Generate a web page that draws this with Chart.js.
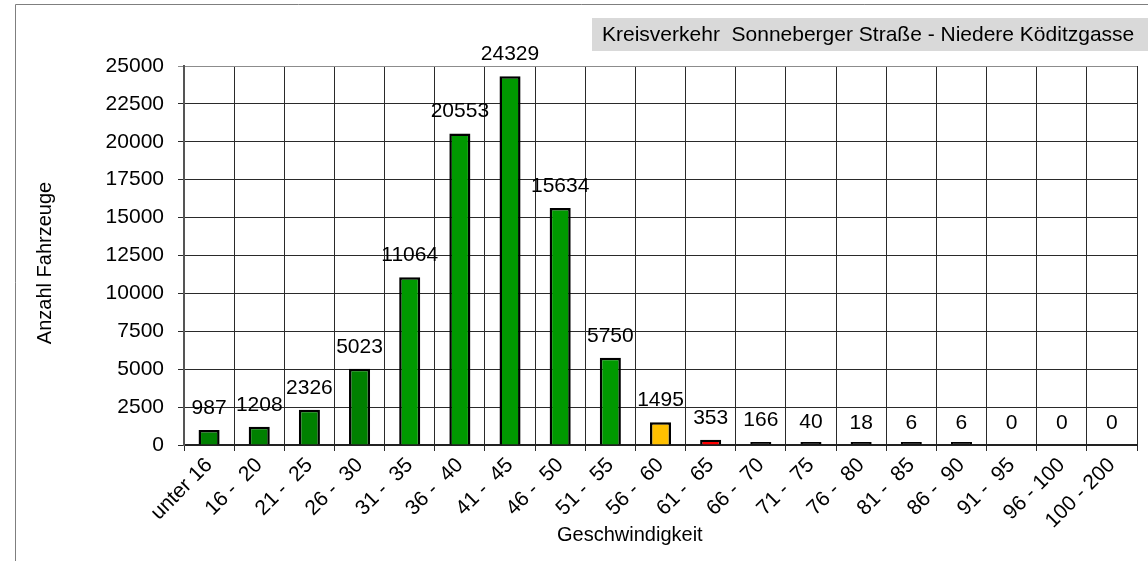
<!DOCTYPE html>
<html>
<head>
<meta charset="utf-8">
<script src="https://cdn.jsdelivr.net/npm/chart.js@4.4.0/dist/chart.umd.min.js"></script>
<style>
  html, body { margin: 0; padding: 0; background: #fff; }
  #wrap { width: 1148px; height: 561px; position: relative; }
</style>
</head>
<body>
<div id="wrap"><canvas id="myChart"></canvas></div>
<script>
// data
const categories = ['unter 16', '16 -  20', '21 -  25', '26 -  30', '31 -  35', '36 -  40', '41 -  45',
  '46 -  50', '51 -  55', '56 -  60', '61 -  65', '66 -  70', '71 -  75', '76 -  80', '81 -  85',
  '86 -  90', '91 -  95', '96 - 100', '100 - 200'];
const counts = [987, 1208, 2326, 5023, 11064, 20553, 24329, 15634, 5750, 1495, 353, 166, 40, 18, 6, 6, 0, 0, 0];
const barColors = ['#008000', '#008000', '#008000', '#008000', '#009900', '#009900', '#009900', '#009900',
  '#009900', '#ffc000', '#ff0000', '#000000', '#000000', '#000000', '#000000', '#000000', '#000000', '#000000', '#000000'];
const yMax = 25000;
const yStep = 2500;

const chartTitle = 'Kreisverkehr  Sonneberger Straße - Niedere Köditzgasse';
const yTitle = 'Anzahl Fahrzeuge';
const xTitle = 'Geschwindigkeit';

const FONT = '"Liberation Sans", Arial, sans-serif';

const decor = {
  id: 'decor',
  beforeDraw(chart) {
    const c = chart.ctx;
    c.save();
    c.fillStyle = '#fff';
    c.fillRect(0, 0, chart.width, chart.height);
    // outer frame
    c.strokeStyle = '#7f7f7f';
    c.lineWidth = 1;
    c.beginPath();
    c.moveTo(15.5, chart.height);
    c.lineTo(15.5, 4.5);
    c.lineTo(chart.width, 4.5);
    c.stroke();
    // title box
    c.fillStyle = '#d9d9d9';
    c.fillRect(592, 18, chart.width - 592, 33);
    c.fillStyle = '#000';
    c.font = '21px ' + FONT;
    c.textBaseline = 'middle';
    c.textAlign = 'left';
    c.fillText(chartTitle, 602, 35);
    // axis titles
    c.font = '20px ' + FONT;
    c.textBaseline = 'alphabetic';
    c.fillText(xTitle, 557, 541);
    c.translate(51, 263);
    c.rotate(-Math.PI / 2);
    c.textAlign = 'center';
    c.fillText(yTitle, 0, 0);
    c.restore();
  },
  afterDatasetsDraw(chart) {
    const c = chart.ctx;
    const meta = chart.getDatasetMeta(0);
    const y = chart.scales.y;
    c.save();
    c.fillStyle = '#000';
    c.font = '21px ' + FONT;
    c.textAlign = 'center';
    c.textBaseline = 'alphabetic';
    meta.data.forEach((bar, i) => {
      c.fillText(String(counts[i]), bar.x, y.getPixelForValue(counts[i]) - 16);
    });
    c.restore();
  }
};

new Chart(document.getElementById('myChart'), {
  type: 'bar',
  data: {
    labels: categories,
    datasets: [{
      data: counts,
      backgroundColor: ctx => counts[ctx.dataIndex] === 0 ? 'rgba(0,0,0,0)' : barColors[ctx.dataIndex],
      borderColor: ctx => counts[ctx.dataIndex] === 0 ? 'rgba(0,0,0,0)' : '#000',
      borderWidth: 2.5,
      borderSkipped: 'start',
      minBarLength: 3,
      barPercentage: 0.42,
      categoryPercentage: 1
    }]
  },
  options: {
    responsive: true,
    maintainAspectRatio: false,
    animation: false,
    layout: { padding: { left: 0, right: 11, top: 66, bottom: 0 } },
    plugins: {
      legend: { display: false },
      tooltip: { enabled: false }
    },
    scales: {
      x: {
        z: 1,
        afterFit(scale) { scale.height = 116; },
        grid: {
          color: ctx => ctx.index === categories.length ? '#8c8c8c' : '#2a2a2a',
          tickLength: 6,
          offset: true
        },
        border: { color: '#222', width: 2 },
        ticks: {
          autoSkip: false,
          maxRotation: 45,
          minRotation: 45,
          padding: 2,
          color: '#000',
          font: { family: FONT, size: 21 }
        }
      },
      y: {
        min: 0,
        max: yMax,
        afterFit(scale) { scale.width = 184; },
        grid: {
          color: ctx => ctx.tick && ctx.tick.value === yMax ? '#8c8c8c' : '#2a2a2a',
          tickLength: 6
        },
        border: { color: '#555', width: 2 },
        ticks: {
          stepSize: yStep,
          padding: 14,
          color: '#000',
          font: { family: FONT, size: 21 },
          callback: v => String(v)
        }
      }
    }
  },
  plugins: [decor]
});
</script>
</body>
</html>
